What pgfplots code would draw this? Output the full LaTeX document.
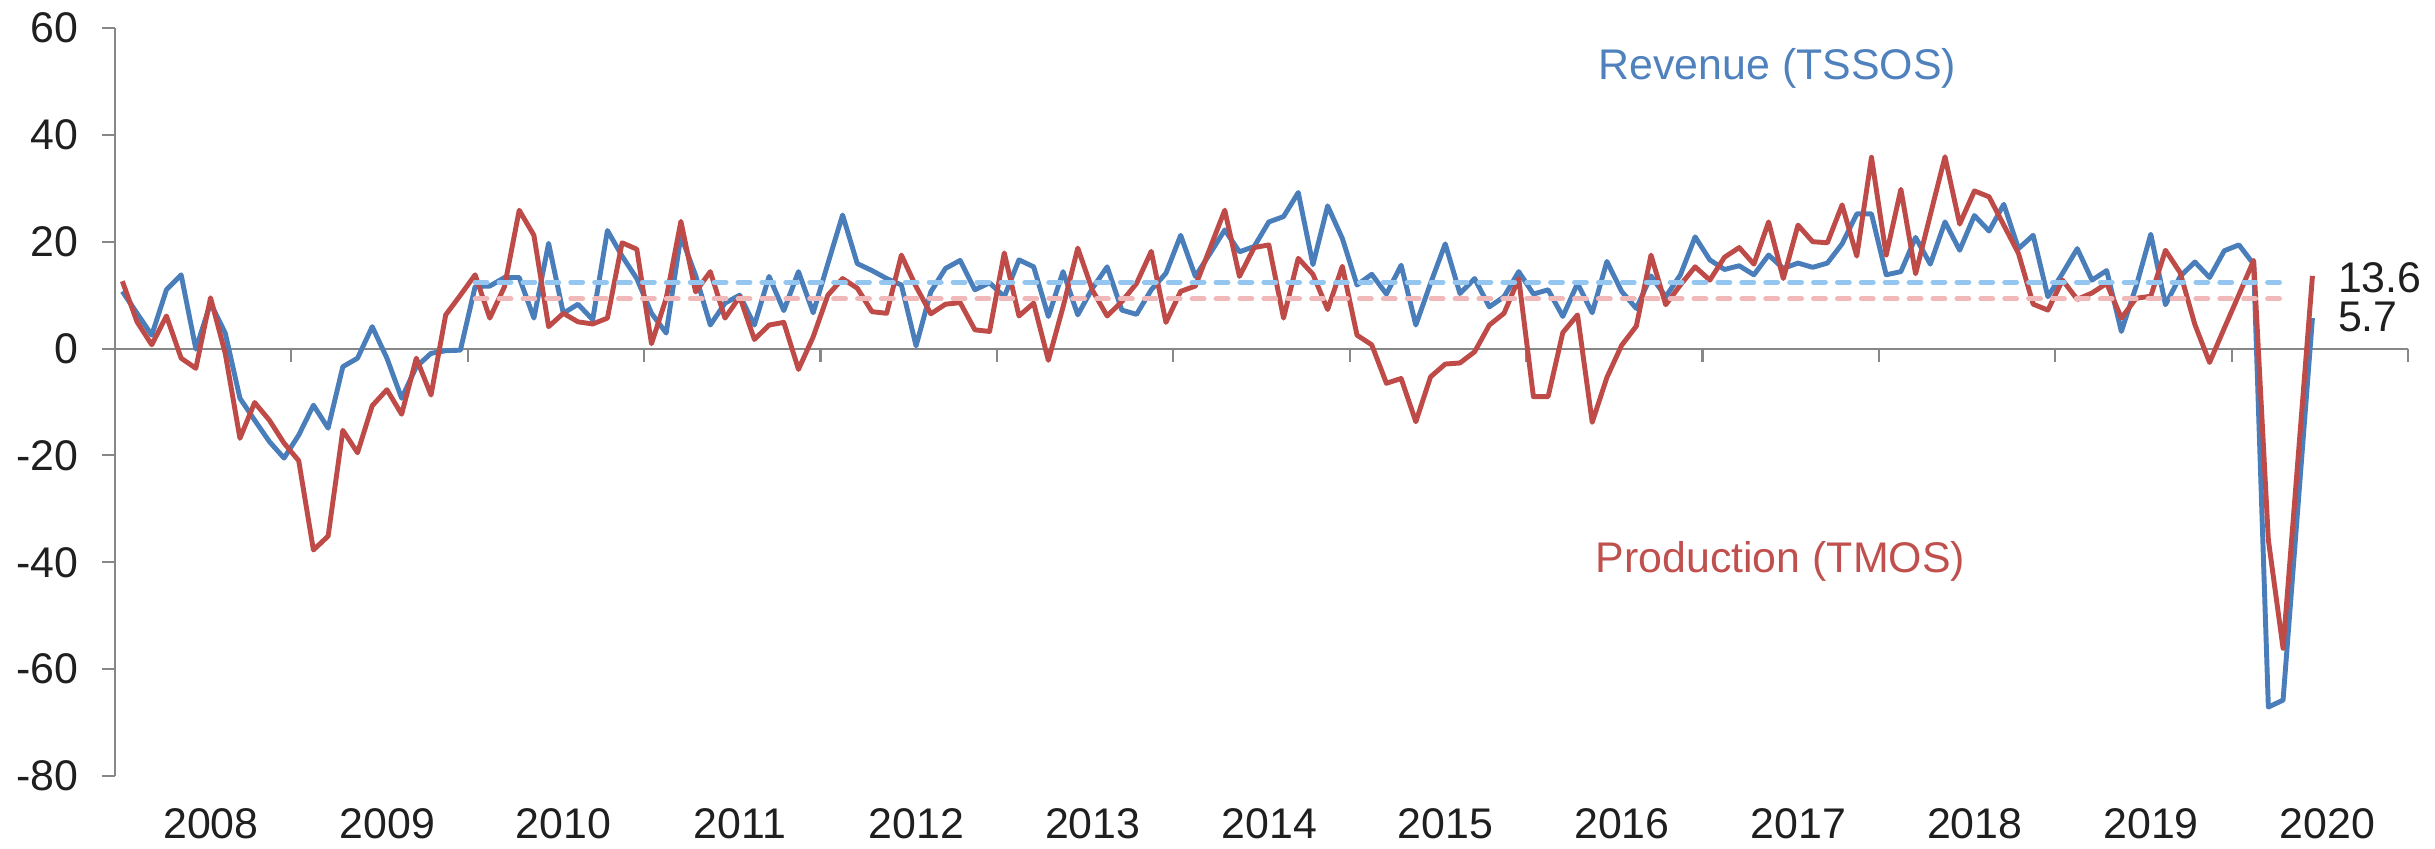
\documentclass[border=0pt]{standalone}
\usepackage{fontspec}
\setmainfont{Liberation Sans}
\usepackage{pgfplots}
\pgfplotsset{compat=1.18}
\usepackage{pgfplotstable}
\definecolor{revblue}{HTML}{4A7EBB}
\definecolor{prodred}{HTML}{BE4B48}
\definecolor{avgblue}{HTML}{95C6EF}
\definecolor{avgred}{HTML}{F0B8B8}
\definecolor{axisgray}{HTML}{878787}
\definecolor{txtblue}{HTML}{4F81BD}
\definecolor{txtred}{HTML}{C0504D}
\definecolor{txtdark}{HTML}{1F1F1F}

% x = months since Jan 2008 (+0.5, mid-month)
\pgfplotstableread{
x y
0.5 10.7
1.5 6.6
2.5 2.5
3.5 11.0
4.5 13.8
5.5 -0.1
6.5 8.5
7.5 2.9
8.5 -9.3
9.5 -13.4
10.5 -17.4
11.5 -20.5
12.5 -16.2
13.5 -10.6
14.5 -14.9
15.5 -3.4
16.5 -1.8
17.5 4.1
18.5 -1.8
19.5 -9.3
20.5 -3.4
21.5 -0.9
22.5 -0.4
23.5 -0.3
24.5 11.6
25.5 11.7
26.5 13.3
27.5 13.3
28.5 5.7
29.5 19.7
30.5 6.6
31.5 8.3
32.5 5.4
33.5 22.1
34.5 17.3
35.5 13.1
36.5 6.6
37.5 2.9
38.5 21.1
39.5 13.7
40.5 4.4
41.5 8.5
42.5 10.0
43.5 4.4
44.5 13.5
45.5 7.1
46.5 14.4
47.5 6.7
48.5 15.9
49.5 25.0
50.5 15.9
51.5 14.6
52.5 13.1
53.5 11.9
54.5 0.5
55.5 10.6
56.5 15.0
57.5 16.5
58.5 11.0
59.5 12.3
60.5 9.7
61.5 16.6
62.5 15.3
63.5 6.0
64.5 14.4
65.5 6.3
66.5 11.3
67.5 15.3
68.5 7.2
69.5 6.4
70.5 11.0
71.5 14.1
72.5 21.2
73.5 13.5
74.5 17.8
75.5 22.2
76.5 18.1
77.5 19.1
78.5 23.7
79.5 24.7
80.5 29.2
81.5 15.7
82.5 26.7
83.5 20.6
84.5 11.9
85.5 13.9
86.5 10.2
87.5 15.6
88.5 4.4
89.5 12.2
90.5 19.6
91.5 10.3
92.5 13.1
93.5 7.8
94.5 9.7
95.5 14.4
96.5 10.2
97.5 11.0
98.5 6.0
99.5 12.2
100.5 6.7
101.5 16.3
102.5 10.7
103.5 7.5
104.5 13.6
105.5 9.7
106.5 13.8
107.5 20.9
108.5 16.6
109.5 14.8
110.5 15.5
111.5 13.8
112.5 17.5
113.5 15.0
114.5 16.0
115.5 15.2
116.5 16.0
117.5 19.6
118.5 25.2
119.5 25.2
120.5 13.8
121.5 14.4
122.5 20.8
123.5 15.8
124.5 23.7
125.5 18.4
126.5 24.9
127.5 22.0
128.5 27.0
129.5 18.7
130.5 21.2
131.5 9.7
132.5 14.1
133.5 18.7
134.5 12.8
135.5 14.6
136.5 3.2
137.5 11.6
138.5 21.4
139.5 8.2
140.5 13.5
141.5 16.2
142.5 13.3
143.5 18.3
144.5 19.4
145.5 15.8
146.5 -67.1
147.5 -65.8
149.5 5.7
}\revenue

\pgfplotstableread{
x y
0.5 12.6
1.5 5.0
2.5 0.7
3.5 6.1
4.5 -1.8
5.5 -3.7
6.5 9.5
7.5 -0.9
8.5 -16.8
9.5 -10.1
10.5 -13.4
11.5 -17.7
12.5 -21.0
13.5 -37.7
14.5 -35.1
15.5 -15.3
16.5 -19.5
17.5 -10.7
18.5 -7.7
19.5 -12.3
20.5 -1.8
21.5 -8.7
22.5 6.3
23.5 10.0
24.5 13.8
25.5 5.7
26.5 11.6
27.5 25.9
28.5 21.2
29.5 4.1
30.5 6.6
31.5 5.0
32.5 4.6
33.5 5.7
34.5 19.8
35.5 18.6
36.5 0.9
37.5 9.4
38.5 23.8
39.5 10.6
40.5 14.4
41.5 5.7
42.5 9.7
43.5 1.7
44.5 4.4
45.5 4.9
46.5 -3.9
47.5 2.2
48.5 10.0
49.5 13.1
50.5 11.3
51.5 6.9
52.5 6.6
53.5 17.5
54.5 11.6
55.5 6.5
56.5 8.3
57.5 8.6
58.5 3.5
59.5 3.2
60.5 17.9
61.5 6.1
62.5 8.5
63.5 -2.2
64.5 7.8
65.5 18.8
66.5 10.9
67.5 6.1
68.5 8.8
69.5 12.2
70.5 18.2
71.5 4.9
72.5 10.7
73.5 11.7
74.5 18.8
75.5 25.9
76.5 13.5
77.5 18.9
78.5 19.4
79.5 5.7
80.5 16.9
81.5 13.9
82.5 7.3
83.5 15.4
84.5 2.5
85.5 0.7
86.5 -6.5
87.5 -5.6
88.5 -13.7
89.5 -5.3
90.5 -2.9
91.5 -2.7
92.5 -0.6
93.5 4.4
94.5 6.6
95.5 13.1
96.5 -9.0
97.5 -9.0
98.5 3.0
99.5 6.3
100.5 -13.8
101.5 -5.4
102.5 0.6
103.5 4.2
104.5 17.5
105.5 8.2
106.5 11.9
107.5 15.3
108.5 12.8
109.5 17.1
110.5 18.9
111.5 15.8
112.5 23.7
113.5 13.1
114.5 23.1
115.5 20.0
116.5 19.8
117.5 26.9
118.5 17.3
119.5 35.8
120.5 17.5
121.5 29.8
122.5 14.0
123.5 25.0
124.5 35.9
125.5 23.3
126.5 29.5
127.5 28.4
128.5 23.1
129.5 17.8
130.5 8.3
131.5 7.2
132.5 12.8
133.5 9.2
134.5 10.4
135.5 12.2
136.5 5.7
137.5 9.4
138.5 9.8
139.5 18.4
140.5 14.2
141.5 4.5
142.5 -2.6
143.5 3.8
144.5 10.1
145.5 16.5
146.5 -35.8
147.5 -56.1
149.5 13.6
}\production

\begin{document}
\begin{tikzpicture}
\path[use as bounding box] (-11.5mm,-7.2mm) rectangle (232.0mm,77.6mm);
\begin{axis}[
  at={(0,0)}, anchor=south west,
  scale only axis, width=229.3mm, height=74.8mm,
  xmin=0, xmax=156, ymin=-80, ymax=60,
  axis y line*=left, axis x line*=bottom,
  x axis line style={draw=none},
  y axis line style={axisgray, line width=0.6pt},
  xtick={6,18,30,42,54,66,78,90,102,114,126,138,150},
  xticklabels={2008,2009,2010,2011,2012,2013,2014,2015,2016,2017,2018,2019,2020},
  xtick style={draw=none},
  ytick={-80,-60,-40,-20,0,20,40,60},
  yticklabels={-80,-60,-40,-20,0,20,40,60},
  ytick style={axisgray, line width=0.6pt},
  tick align=outside, major tick length=3.7pt,
  tick label style={font=\fontsize{12.2}{14}\selectfont, text=txtdark},
  xticklabel style={yshift=-2pt, xshift=2.2pt},
  yticklabel style={xshift=-3.2pt},
  clip=false, no markers,
]
\draw[axisgray, line width=0.6pt] (axis cs:0,0) -- (axis cs:156,0);
\pgfplotsinvokeforeach{12,24,...,156}{\draw[axisgray, line width=0.6pt] (axis cs:#1,0) -- ([yshift=-3.7pt]axis cs:#1,0);}
\addplot[revblue, line width=1.4pt, line join=round] table[x=x,y=y] {\revenue};
\addplot[prodred, line width=1.4pt, line join=round] table[x=x,y=y] {\production};
\addplot[avgblue, line width=1.4pt, line cap=round, dash pattern=on 3.4pt off 3.4pt] coordinates {(24.5,12.4) (148,12.4)};
\addplot[avgred, line width=1.4pt, line cap=round, dash pattern=on 3.4pt off 3.4pt] coordinates {(24.5,9.3) (148,9.3)};
\node[text=txtblue, font=\fontsize{12.2}{14}\selectfont] at (axis cs:113.1,52.5) {Revenue (TSSOS)};
\node[text=txtred, font=\fontsize{12.2}{14}\selectfont] at (axis cs:113.3,-39.9) {Production (TMOS)};
\node[anchor=west, inner sep=0pt, text=txtdark, font=\fontsize{12.2}{14}\selectfont] at (axis cs:151.2,13.2) {13.6};
\node[anchor=west, inner sep=0pt, text=txtdark, font=\fontsize{12.2}{14}\selectfont] at (axis cs:151.2,6.0) {5.7};
\end{axis}
\end{tikzpicture}
\end{document}
